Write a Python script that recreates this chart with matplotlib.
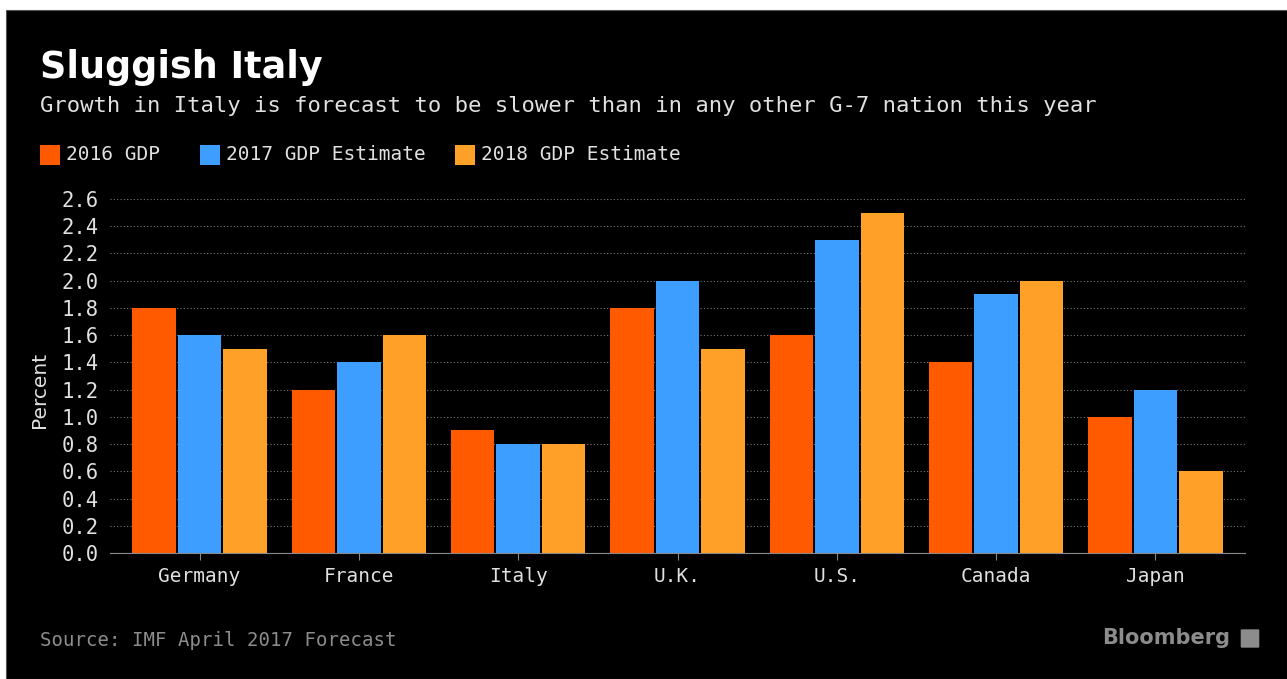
import numpy as np
import matplotlib
matplotlib.use('Agg')
import matplotlib.pyplot as plt
from matplotlib.patches import Rectangle, FancyBboxPatch

# data
countries = ['Germany', 'France', 'Italy', 'U.K.', 'U.S.', 'Canada', 'Japan']
series_names = ['2016 GDP', '2017 GDP Estimate', '2018 GDP Estimate']
gdp_2016 = [1.8, 1.2, 0.9, 1.8, 1.6, 1.4, 1.0]
gdp_2017 = [1.6, 1.4, 0.8, 2.0, 2.3, 1.9, 1.2]
gdp_2018 = [1.5, 1.6, 0.8, 1.5, 2.5, 2.0, 0.6]
yticks = [0.0, 0.2, 0.4, 0.6, 0.8, 1.0, 1.2, 1.4, 1.6, 1.8, 2.0, 2.2, 2.4, 2.6]

colors = ['#ff5a00', '#3d9eff', '#ffa028']
mono = 'DejaVu Sans Mono'

W, H = 1287, 679
fig = plt.figure(figsize=(W / 100, H / 100), dpi=100, facecolor='white')

# black panel with white margin top/left
fig.patches.append(Rectangle((6 / W, 0), 1 - 6 / W, 1 - 10 / H,
                             transform=fig.transFigure, facecolor='black',
                             edgecolor='#555555', lw=0.8, zorder=-10))

ax = fig.add_axes([110 / W, 1 - 553 / H, (1245 - 110) / W, (553 - 199) / H])
ax.set_facecolor('black')

x = np.arange(len(countries))
step = 0.2856
width = 0.273
for i, (vals, name) in enumerate(zip([gdp_2016, gdp_2017, gdp_2018], series_names)):
    ax.bar(x + (i - 1) * step, vals, width, color=colors[i], label=name, zorder=3)

ax.set_xlim(-0.562, 6.562)
ax.set_ylim(0, 2.6)
ax.set_yticks(yticks)
ax.set_yticklabels(['%.1f' % v for v in yticks], fontfamily=mono, fontsize=14.8, color='#e0e0e0')
ax.set_xticks(x)
ax.set_xticklabels(countries, fontfamily=mono, fontsize=14, color='#e0e0e0')
ax.tick_params(axis='y', length=0, pad=8)
ax.tick_params(axis='x', length=5, color='#888888', pad=5)
ax.yaxis.grid(True, color='#777777', linestyle=(0, (1, 2)), lw=0.8, zorder=0)
for s in ['top', 'right', 'left']:
    ax.spines[s].set_visible(False)
ax.spines['bottom'].set_color('#888888')
ax.spines['bottom'].set_zorder(4)
ax.set_ylabel('Percent', fontsize=14.5, color='#e0e0e0')
ax.yaxis.set_label_coords(-61 / 1135, (553 - 390) / (553 - 199))

# titles
fig.text(40 / W, 1 - 67 / H, 'Sluggish Italy', fontsize=26.3, fontweight='bold',
         color='white', va='center', ha='left')
fig.text(40 / W, 1 - 106 / H,
         'Growth in Italy is forecast to be slower than in any other G-7 nation this year',
         fontsize=16, fontfamily=mono, color='#e0e0e0', va='center', ha='left')

# legend
leg_x = [40, 200, 455]
for lx, c, name in zip(leg_x, colors, series_names):
    fig.patches.append(Rectangle((lx / W, 1 - 165 / H), 20 / W, 20 / H,
                                 transform=fig.transFigure, facecolor=c,
                                 edgecolor='none', zorder=2))
    fig.text((lx + 26) / W, 1 - 155 / H, name, fontsize=14, fontfamily=mono,
             color='#e0e0e0', va='center', ha='left')

# footer
fig.text(40 / W, 1 - 640 / H, 'Source: IMF April 2017 Forecast', fontsize=13.7,
         fontfamily=mono, color='#8c8c8c', va='center', ha='left')
fig.text(1230 / W, 1 - 638 / H, 'Bloomberg', fontsize=15, fontweight='bold',
         color='#8c8c8c', va='center', ha='right')
fig.patches.append(FancyBboxPatch((1242 / W, 1 - 647 / H), 16 / W, 17 / H,
                                  boxstyle='round,pad=0.001', transform=fig.transFigure,
                                  facecolor='#8c8c8c', edgecolor='none', zorder=2))

fig.savefig('out.png', dpi=100, facecolor=fig.get_facecolor())
